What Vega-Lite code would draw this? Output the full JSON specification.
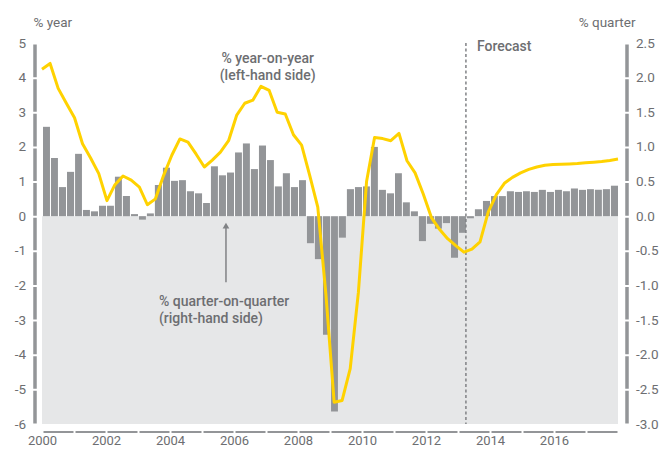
{
  "$schema": "https://vega.github.io/schema/vega-lite/v6.json",
  "width": 576,
  "height": 381,
  "autosize": "none",
  "padding": {"left": 42, "top": 43, "right": 45, "bottom": 26},
  "background": "white",
  "config": {
    "view": {"stroke": null},
    "font": "Roboto",
    "axis": {"labelFont": "Roboto", "titleFont": "Roboto", "labelColor": "#6d6e71", "titleColor": "#6d6e71", "labelFontSize": 13.5, "titleFontSize": 13.5, "titleFontWeight": "normal", "grid": false, "ticks": false}
  },
  "datasets": {
    "gdp": [
      {"date": "2000-01-01", "qoq": 1.29, "yoy": 4.24},
      {"date": "2000-04-01", "qoq": 0.84, "yoy": 4.41},
      {"date": "2000-07-01", "qoq": 0.42, "yoy": 3.69},
      {"date": "2000-10-01", "qoq": 0.64, "yoy": 3.26},
      {"date": "2001-01-01", "qoq": 0.90, "yoy": 2.84},
      {"date": "2001-04-01", "qoq": 0.09, "yoy": 2.09},
      {"date": "2001-07-01", "qoq": 0.07, "yoy": 1.68},
      {"date": "2001-10-01", "qoq": 0.15, "yoy": 1.23},
      {"date": "2002-01-01", "qoq": 0.15, "yoy": 0.45},
      {"date": "2002-04-01", "qoq": 0.57, "yoy": 0.91},
      {"date": "2002-07-01", "qoq": 0.29, "yoy": 1.16},
      {"date": "2002-10-01", "qoq": 0.03, "yoy": 1.04},
      {"date": "2003-01-01", "qoq": -0.05, "yoy": 0.84},
      {"date": "2003-04-01", "qoq": 0.04, "yoy": 0.33},
      {"date": "2003-07-01", "qoq": 0.45, "yoy": 0.50},
      {"date": "2003-10-01", "qoq": 0.70, "yoy": 1.18},
      {"date": "2004-01-01", "qoq": 0.51, "yoy": 1.76},
      {"date": "2004-04-01", "qoq": 0.52, "yoy": 2.23},
      {"date": "2004-07-01", "qoq": 0.36, "yoy": 2.14},
      {"date": "2004-10-01", "qoq": 0.33, "yoy": 1.79},
      {"date": "2005-01-01", "qoq": 0.19, "yoy": 1.42},
      {"date": "2005-04-01", "qoq": 0.72, "yoy": 1.62},
      {"date": "2005-07-01", "qoq": 0.59, "yoy": 1.85},
      {"date": "2005-10-01", "qoq": 0.63, "yoy": 2.18},
      {"date": "2006-01-01", "qoq": 0.92, "yoy": 2.92},
      {"date": "2006-04-01", "qoq": 1.05, "yoy": 3.26},
      {"date": "2006-07-01", "qoq": 0.68, "yoy": 3.35},
      {"date": "2006-10-01", "qoq": 1.02, "yoy": 3.75},
      {"date": "2007-01-01", "qoq": 0.81, "yoy": 3.63},
      {"date": "2007-04-01", "qoq": 0.43, "yoy": 3.00},
      {"date": "2007-07-01", "qoq": 0.62, "yoy": 2.95},
      {"date": "2007-10-01", "qoq": 0.42, "yoy": 2.35},
      {"date": "2008-01-01", "qoq": 0.52, "yoy": 2.05},
      {"date": "2008-04-01", "qoq": -0.39, "yoy": 1.18},
      {"date": "2008-07-01", "qoq": -0.62, "yoy": 0.26},
      {"date": "2008-10-01", "qoq": -1.71, "yoy": -2.27},
      {"date": "2009-01-01", "qoq": -2.82, "yoy": -5.37},
      {"date": "2009-04-01", "qoq": -0.31, "yoy": -5.32},
      {"date": "2009-07-01", "qoq": 0.39, "yoy": -4.40},
      {"date": "2009-10-01", "qoq": 0.42, "yoy": -2.20},
      {"date": "2010-01-01", "qoq": 0.43, "yoy": 1.00},
      {"date": "2010-04-01", "qoq": 1.00, "yoy": 2.27},
      {"date": "2010-07-01", "qoq": 0.38, "yoy": 2.24},
      {"date": "2010-10-01", "qoq": 0.33, "yoy": 2.18},
      {"date": "2011-01-01", "qoq": 0.62, "yoy": 2.39},
      {"date": "2011-04-01", "qoq": 0.20, "yoy": 1.60},
      {"date": "2011-07-01", "qoq": 0.07, "yoy": 1.25},
      {"date": "2011-10-01", "qoq": -0.36, "yoy": 0.64},
      {"date": "2012-01-01", "qoq": -0.11, "yoy": -0.04},
      {"date": "2012-04-01", "qoq": -0.18, "yoy": -0.38},
      {"date": "2012-07-01", "qoq": -0.10, "yoy": -0.65},
      {"date": "2012-10-01", "qoq": -0.60, "yoy": -0.85},
      {"date": "2013-01-01", "qoq": -0.24, "yoy": -1.04},
      {"date": "2013-04-01", "qoq": -0.03, "yoy": -0.95},
      {"date": "2013-07-01", "qoq": 0.10, "yoy": -0.74},
      {"date": "2013-10-01", "qoq": 0.22, "yoy": 0.12},
      {"date": "2014-01-01", "qoq": 0.29, "yoy": 0.62},
      {"date": "2014-04-01", "qoq": 0.29, "yoy": 0.95},
      {"date": "2014-07-01", "qoq": 0.36, "yoy": 1.12},
      {"date": "2014-10-01", "qoq": 0.35, "yoy": 1.25},
      {"date": "2015-01-01", "qoq": 0.36, "yoy": 1.35},
      {"date": "2015-04-01", "qoq": 0.35, "yoy": 1.42},
      {"date": "2015-07-01", "qoq": 0.38, "yoy": 1.47},
      {"date": "2015-10-01", "qoq": 0.35, "yoy": 1.49},
      {"date": "2016-01-01", "qoq": 0.38, "yoy": 1.50},
      {"date": "2016-04-01", "qoq": 0.36, "yoy": 1.51},
      {"date": "2016-07-01", "qoq": 0.40, "yoy": 1.52},
      {"date": "2016-10-01", "qoq": 0.38, "yoy": 1.54},
      {"date": "2017-01-01", "qoq": 0.39, "yoy": 1.56},
      {"date": "2017-04-01", "qoq": 0.38, "yoy": 1.58},
      {"date": "2017-07-01", "qoq": 0.39, "yoy": 1.61},
      {"date": "2017-10-01", "qoq": 0.44, "yoy": 1.65}
    ]
  },
  "data": {"name": "gdp"},
  "resolve": {"scale": {"x": "independent", "y": "independent"}},
  "layer": [
    {
      "data": {"values": [{}]},
      "mark": {"type": "rect", "color": "#e6e7e8"},
      "encoding": {
        "y": {"datum": 0, "type": "quantitative", "scale": {"domain": [-6, 5], "nice": false, "zero": false},
          "axis": {"orient": "left", "offset": 7.5, "values": [-6,-5,-4,-3,-2,-1,0,1,2,3,4,5],
            "labelExpr": "'' + datum.value", "labelPadding": 9,
            "domainColor": "#939598", "domainWidth": 3.5, "domainDash": [32.636, 2], "domainDashOffset": 33.636,
            "title": "% year", "titleAngle": 0, "titleAlign": "left", "titleBaseline": "alphabetic", "titleX": -1.5, "titleY": -17}},
        "y2": {"datum": -6}
      }
    },
    {
      "mark": {"type": "bar", "color": "#939598"},
      "encoding": {
        "x": {"field": "date", "type": "temporal", "timeUnit": "utcyearquarter",
          "scale": {"type": "utc", "domain": [{"year": 2000, "month": 1, "date": 1, "utc": true}, {"year": 2018, "month": 1, "date": 1, "utc": true}]},
          "axis": {"orient": "bottom", "offset": 7.5, "format": "%Y", "labelFlush": false, "labelPadding": 3, "labelFontSize": 13,
            "values": [{"year": 2000, "month": 1, "date": 1, "utc": true}, {"year": 2002, "month": 1, "date": 1, "utc": true}, {"year": 2004, "month": 1, "date": 1, "utc": true}, {"year": 2006, "month": 1, "date": 1, "utc": true}, {"year": 2008, "month": 1, "date": 1, "utc": true}, {"year": 2010, "month": 1, "date": 1, "utc": true}, {"year": 2012, "month": 1, "date": 1, "utc": true}, {"year": 2014, "month": 1, "date": 1, "utc": true}, {"year": 2016, "month": 1, "date": 1, "utc": true}],
            "domainColor": "#939598", "domainWidth": 2, "domainDash": [30, 2], "domainDashOffset": 31, "title": null}},
        "y": {"field": "qoq", "type": "quantitative", "scale": {"domain": [-3, 2.5], "nice": false},
          "axis": {"orient": "right", "offset": 8.5, "values": [-3,-2.5,-2,-1.5,-1,-0.5,0,0.5,1,1.5,2,2.5],
            "labelExpr": "replace(format(datum.value, '.1f'), '\u2212', '-')", "labelPadding": 9,
            "domainColor": "#939598", "domainWidth": 3.5, "domainDash": [32.636, 2], "domainDashOffset": 33.636,
            "title": "% quarter", "titleAngle": 0, "titleAlign": "right", "titleBaseline": "alphabetic", "titleX": 8.5, "titleY": -17}}
      }
    },
    {
      "data": {"values": [{}]},
      "mark": {"type": "rule", "color": "#808285", "strokeWidth": 1.5, "strokeDash": [3, 2.5]},
      "encoding": {
        "x": {"datum": {"year": 2013, "month": 4, "date": 1, "utc": true}, "type": "temporal",
          "scale": {"type": "utc", "domain": [{"year": 2000, "month": 1, "date": 1, "utc": true}, {"year": 2018, "month": 1, "date": 1, "utc": true}]}, "axis": null}
      }
    },
    {
      "mark": {"type": "line", "color": "#FFD200", "strokeWidth": 3, "strokeJoin": "round"},
      "encoding": {
        "x": {"field": "date", "type": "temporal",
          "scale": {"type": "utc", "domain": [{"year": 2000, "month": 1, "date": 1, "utc": true}, {"year": 2017, "month": 10, "date": 1, "utc": true}]}, "axis": null},
        "y": {"field": "yoy", "type": "quantitative", "scale": {"domain": [-6, 5], "nice": false, "zero": false}, "axis": null}
      }
    },
    {
      "data": {"values": [{}]},
      "mark": {"type": "text", "text": ["% year-on-year", "(left-hand side)"], "align": "center", "baseline": "middle", "fontSize": 14, "fontWeight": 500, "color": "#6d6e71", "lineHeight": 16.5},
      "encoding": {
        "x": {"datum": {"year": 2007, "month": 1, "date": 20, "utc": true}, "type": "temporal",
          "scale": {"type": "utc", "domain": [{"year": 2000, "month": 1, "date": 1, "utc": true}, {"year": 2018, "month": 1, "date": 1, "utc": true}]}, "axis": null},
        "y": {"datum": 4.53, "type": "quantitative", "scale": {"domain": [-6, 5], "nice": false, "zero": false}, "axis": null}
      }
    },
    {
      "data": {"values": [{}]},
      "mark": {"type": "text", "text": ["% quarter-on-quarter", "(right-hand side)"], "align": "left", "baseline": "middle", "fontSize": 14, "fontWeight": 500, "color": "#6d6e71", "lineHeight": 17},
      "encoding": {
        "x": {"datum": {"year": 2003, "month": 8, "date": 28, "utc": true}, "type": "temporal",
          "scale": {"type": "utc", "domain": [{"year": 2000, "month": 1, "date": 1, "utc": true}, {"year": 2018, "month": 1, "date": 1, "utc": true}]}, "axis": null},
        "y": {"datum": -2.47, "type": "quantitative", "scale": {"domain": [-6, 5], "nice": false, "zero": false}, "axis": null}
      }
    },
    {
      "data": {"values": [{}]},
      "mark": {"type": "text", "text": "Forecast", "align": "left", "baseline": "middle", "dx": 11, "fontSize": 14, "fontWeight": 500, "color": "#6d6e71"},
      "encoding": {
        "x": {"datum": {"year": 2013, "month": 4, "date": 1, "utc": true}, "type": "temporal",
          "scale": {"type": "utc", "domain": [{"year": 2000, "month": 1, "date": 1, "utc": true}, {"year": 2018, "month": 1, "date": 1, "utc": true}]}, "axis": null},
        "y": {"datum": 4.88, "type": "quantitative", "scale": {"domain": [-6, 5], "nice": false, "zero": false}, "axis": null}
      }
    },
    {
      "data": {"values": [{}]},
      "mark": {"type": "rule", "color": "#808285", "strokeWidth": 1.5},
      "encoding": {
        "x": {"datum": {"year": 2005, "month": 10, "date": 1, "utc": true}, "type": "temporal",
          "scale": {"type": "utc", "domain": [{"year": 2000, "month": 1, "date": 1, "utc": true}, {"year": 2018, "month": 1, "date": 1, "utc": true}]}, "axis": null},
        "y": {"datum": -1.91, "type": "quantitative", "scale": {"domain": [-6, 5], "nice": false, "zero": false}, "axis": null},
        "y2": {"datum": -0.3}
      }
    },
    {
      "data": {"values": [{}]},
      "mark": {"type": "point", "shape": "triangle-up", "filled": true, "size": 45, "color": "#808285", "opacity": 1},
      "encoding": {
        "x": {"datum": {"year": 2005, "month": 10, "date": 1, "utc": true}, "type": "temporal",
          "scale": {"type": "utc", "domain": [{"year": 2000, "month": 1, "date": 1, "utc": true}, {"year": 2018, "month": 1, "date": 1, "utc": true}]}, "axis": null},
        "y": {"datum": -0.27, "type": "quantitative", "scale": {"domain": [-6, 5], "nice": false, "zero": false}, "axis": null}
      }
    }
  ]
}
